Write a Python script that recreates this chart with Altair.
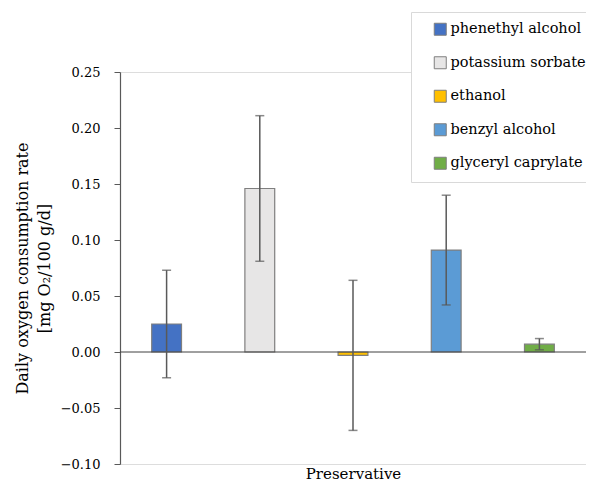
import altair as alt
import pandas as pd

preservatives = ["phenethyl alcohol", "potassium sorbate", "ethanol", "benzyl alcohol", "glyceryl caprylate"]
means = [0.025, 0.146, -0.003, 0.091, 0.007]
errors = [0.048, 0.065, 0.067, 0.049, 0.005]
colors = ["#4472C4", "#E7E6E6", "#FFC000", "#5B9BD5", "#70AD47"]
y_ticks = [-0.10, -0.05, 0.00, 0.05, 0.10, 0.15, 0.20, 0.25]

df = pd.DataFrame({
    "preservative": preservatives,
    "mean": means,
    "err": errors,
})
df["lo"] = df["mean"] - df["err"]
df["hi"] = df["mean"] + df["err"]

FONT = "DejaVu Serif"

x_enc = alt.X("preservative:N", sort=preservatives,
              scale=alt.Scale(paddingInner=0.68, paddingOuter=0.34),
              axis=alt.Axis(labels=False, ticks=False, domain=False, title="Preservative",
                            titleFont=FONT, titleFontSize=15, titleFontWeight="normal",
                            titleColor="#000000", titlePadding=2))
y_scale = alt.Scale(domain=[-0.10, 0.25], nice=False, zero=False)

base = alt.Chart(df)

bars = base.mark_bar(stroke="#7f7f7f", strokeWidth=1.2).encode(
    x=x_enc,
    y=alt.Y("mean:Q", scale=y_scale,
            axis=alt.Axis(values=y_ticks, format=".2f", grid=False,
                          title=["Daily oxygen consumption rate", "[mg O\u2082/100 g/d]"],
                          titleFont=FONT, titleFontSize=16, titleFontWeight="normal",
                          titleColor="#000000", titleLineHeight=22, titlePadding=8,
                          labelFont=FONT, labelFontSize=13, labelColor="#000000",
                          labelPadding=14, tickSize=6, tickColor="#595959",
                          domainColor="#595959", domainWidth=1.2)),
    color=alt.Color("preservative:N", sort=preservatives,
                    scale=alt.Scale(domain=preservatives, range=colors),
                    legend=alt.Legend(title=None, orient="none", legendX=291, legendY=-60,
                                      symbolType="square", symbolSize=144,
                                      symbolStrokeColor="#7f7f7f", symbolStrokeWidth=1,
                                      symbolOffset=12,
                                      labelFont=FONT, labelFontSize=14.5, labelColor="#000000",
                                      labelOffset=3, rowPadding=16.5, padding=10,
                                      fillColor="#ffffff", strokeColor="#d9d9d9",
                                      labelLimit=300)),
)

zero = alt.Chart(pd.DataFrame({"y": [0.0]})).mark_rule(color="#404040", strokeWidth=1).encode(
    y=alt.Y("y:Q", scale=y_scale)
)

rules = base.mark_rule(color="#595959", strokeWidth=1.5).encode(
    x=alt.X("preservative:N", sort=preservatives),
    y=alt.Y("lo:Q", scale=y_scale),
    y2="hi:Q",
)
cap_hi = base.mark_tick(color="#595959", thickness=1.5, size=9, orient="horizontal").encode(
    x=alt.X("preservative:N", sort=preservatives),
    y=alt.Y("hi:Q", scale=y_scale),
)
cap_lo = base.mark_tick(color="#595959", thickness=1.5, size=9, orient="horizontal").encode(
    x=alt.X("preservative:N", sort=preservatives),
    y=alt.Y("lo:Q", scale=y_scale),
)

chart = alt.layer(bars, zero, rules, cap_hi, cap_lo).properties(
    width=466, height=392,
    autosize=alt.AutoSizeParams(type="none"),
    padding={"left": 112, "top": 64, "right": 0, "bottom": 17},
).configure_view(stroke="#d9d9d9", strokeWidth=1).configure(background="#ffffff")

chart.save("out.html", embed_options={"renderer": "svg", "actions": False})
